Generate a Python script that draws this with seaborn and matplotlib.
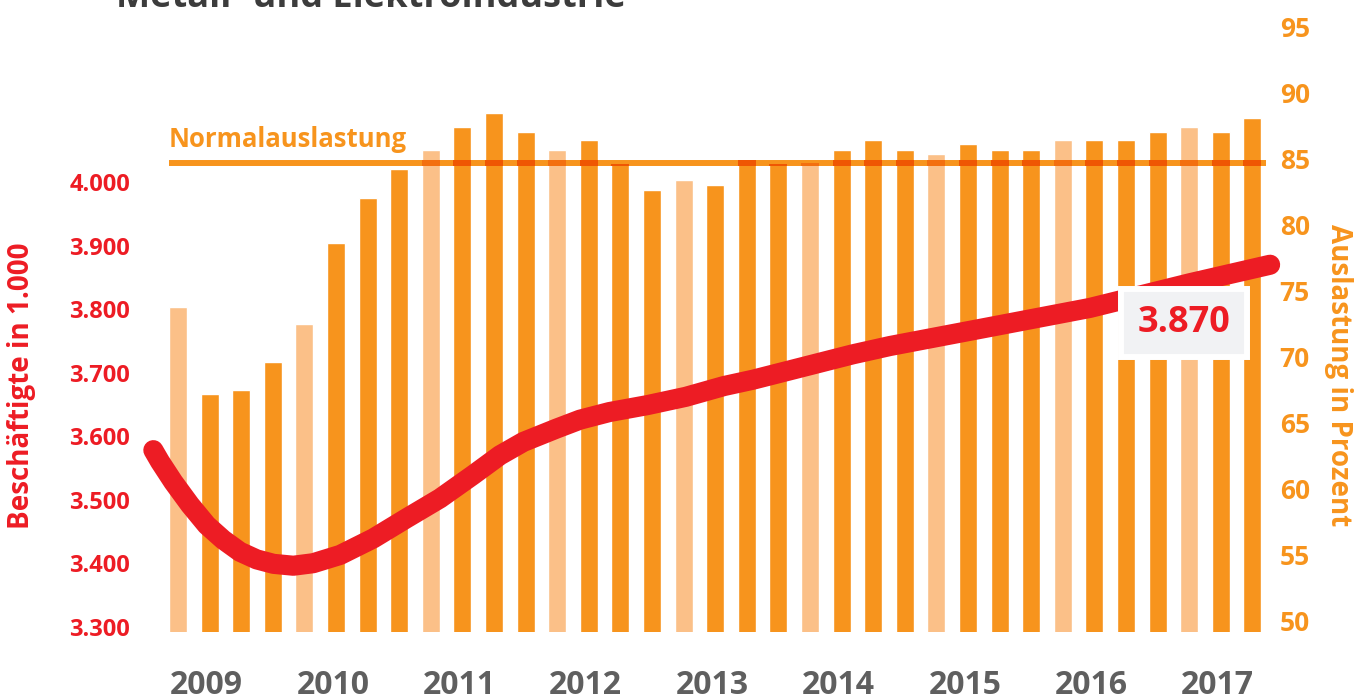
import pandas as pd
import seaborn as sns
import matplotlib.pyplot as plt


# Data: M+E Industrie, quarterly capacity utilisation and employment
jahre = [2009, 2010, 2011, 2012, 2013, 2014, 2015, 2016, 2017]
quartal = [q for _ in jahre for q in (1, 2, 3, 4)][:35]

# Kapazitaetsauslastung in % (2009 Q1 - 2017 Q3)
auslastung = [73.8, 67.2, 67.5, 69.6, 72.5, 78.6, 82.0, 84.2,
              85.7, 87.4, 88.5, 87.0, 85.7, 86.4, 84.6, 82.6,
              83.4, 83.0, 84.9, 84.6, 84.7, 85.7, 86.4, 85.7,
              85.4, 86.1, 85.7, 85.7, 86.4, 86.4, 86.4, 87.0,
              87.4, 87.0, 88.1]
normalauslastung = 84.7

# Beschaeftigte in 1.000 (x = quarters since 2009 Q1)
besch_x = [-0.78, -0.57, -0.15, 0.38, 0.91, 1.43, 1.96, 2.49, 3.02, 3.65,
           4.28, 5.13, 6.18, 7.24, 8.29, 9.34, 10.19, 10.93, 11.98, 12.72,
           13.65, 14.86, 16.07, 17.28, 18.20, 21.36, 22.53, 25.70, 28.86,
           32.03, 34.56]
besch = [3578, 3560, 3528, 3492, 3460, 3437, 3418, 3406, 3399, 3396,
         3400, 3413, 3439, 3471, 3502, 3539, 3570, 3591, 3612, 3626,
         3638, 3649, 3662, 3679, 3689, 3729, 3742, 3772, 3802,
         3841, 3870]

RED = '#ED1C24'
ORANGE = '#F7941D'
LIGHT = '#FBC088'
GREY = '#5F5F5F'

sns.set_theme(style="white")
plt.rcParams['font.family'] = ['Open Sans', 'DejaVu Sans']

fig = plt.figure(figsize=(13.69, 7), dpi=100)
ax = fig.add_axes([140 / 1369, 68 / 700, 1130 / 1369, 632 / 700])
ax2 = ax.twinx()

df = pd.DataFrame({
    'pos': range(len(auslastung)),
    'Auslastung': auslastung,
    'q1': [q == 1 for q in quartal],
})

# Bars (right axis)
sns.barplot(data=df, x='pos', y='Auslastung', hue='q1',
            palette={True: LIGHT, False: ORANGE}, dodge=False,
            width=0.57, saturation=1, legend=False, errorbar=None, ax=ax2)

# Normal utilisation line + darker overlap where it crosses bars (multiply look)
bar_w = 0.57
ax2.hlines(normalauslastung, -bar_w / 2, len(auslastung) - 1 + 0.43,
           color=ORANGE, lw=4.3, zorder=3)
lo, hi = normalauslastung - 0.23, normalauslastung + 0.23
over = df['Auslastung'].clip(lo, hi) - lo
ax2.bar(df['pos'], over, bottom=lo, width=bar_w, zorder=4, linewidth=0,
        color=['#F36F0F' if q else '#EF5603' for q in df['q1']])
ax2.text(-bar_w / 2, normalauslastung + 1.2, 'Normalauslastung',
         color=ORANGE, fontsize=18.5, weight='bold', va='baseline', ha='left')

# Employment line (left axis), drawn above the bars
sns.lineplot(x=besch_x, y=besch, ax=ax, color=RED, linewidth=14.5,
             solid_capstyle='round', solid_joinstyle='round', clip_on=False)
ax.set_zorder(ax2.get_zorder() + 1)
ax.patch.set_visible(False)

label = f"{besch[-1]:,}".replace(",", ".")
ax.annotate(label, xy=(besch_x[-1], besch[-1]), xytext=(-62, -42),
            textcoords='offset points', ha='center', va='center',
            fontsize=26, weight='bold', color=RED, zorder=5,
            bbox=dict(boxstyle='square,pad=0.45', fc='#F1F2F4', ec='white', lw=4.3))

# Axes ranges
ax.set_xlim(-1.2025, 34.557)
ax.set_ylim(3291.65, 4286.9)
ax2.set_ylim(49.13, 97.04)

# Ticks
yt = list(range(3300, 4001, 100))
ax.set_yticks(yt, [f"{v:,}".replace(",", ".") for v in yt])
ax.tick_params(axis='y', length=0, pad=7, labelsize=17, labelcolor=RED)
yt2 = list(range(50, 96, 5))
ax2.set_yticks(yt2, [str(v) for v in yt2])
ax2.tick_params(axis='y', length=0, pad=7, labelsize=19, labelcolor=ORANGE)
ax.set_xticks([4 * k + 0.9 for k in range(len(jahre))], [str(j) for j in jahre])
ax.tick_params(axis='x', length=0, pad=27, labelsize=23, labelcolor=GREY)
for t in ax.get_xticklabels() + ax.get_yticklabels() + ax2.get_yticklabels():
    t.set_fontweight('bold')

ax.set_xlabel('')
ax.set_ylabel('')
ax2.set_xlabel('')
ax2.set_ylabel('')
for a in (ax, ax2):
    for s in a.spines.values():
        s.set_visible(False)
    a.grid(False)

# Axis titles and (cut off) headline
fig.text(22 / 1369, 1 - 386 / 700, 'Beschäftigte in 1.000', rotation=90,
         ha='center', va='center', color=RED, fontsize=20, weight='bold')
fig.text(1338 / 1369, 1 - 375 / 700, 'Auslastung in Prozent', rotation=270,
         ha='center', va='center', color=ORANGE, fontsize=20, weight='bold')
fig.text(116 / 1369, 1 - 7 / 700, 'Metall- und Elektroindustrie',
         ha='left', va='baseline', color='#3C3C3C', fontsize=26, weight='bold')

fig.savefig('out.png', dpi=100)
